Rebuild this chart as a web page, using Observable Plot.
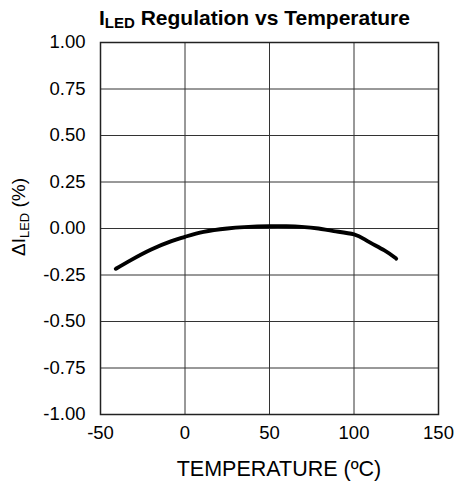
<!DOCTYPE html>
<html>
<head>
<meta charset="utf-8">
<script src="https://cdn.jsdelivr.net/npm/d3@7"></script>
<script src="https://cdn.jsdelivr.net/npm/@observablehq/plot@0.6"></script>
<style>
  body { margin: 0; background: #fff; font-family: "Liberation Sans", Arial, sans-serif; }
  #chart svg { display: block; }
</style>
</head>
<body>
<div id="chart"></div>
<script>
const temperature = [-41, -32, -20, -8, 0, 11, 25, 35, 50, 60, 69, 79, 88, 100, 108, 118, 125];
const deltaILED   = [-0.217, -0.17, -0.113, -0.068, -0.045, -0.018, 0.0, 0.007, 0.012, 0.012, 0.009, 0.0, -0.014, -0.032, -0.068, -0.118, -0.162];
const xTicks = [-50, 0, 50, 100, 150];
const yTicks = [1.00, 0.75, 0.50, 0.25, 0.00, -0.25, -0.50, -0.75, -1.00];

const data = temperature.map((t, i) => ({t, v: deltaILED[i]}));

const W = 454, H = 481;
const ml = 100, mr = 16, mt = 42, mb = 67;

const plot = Plot.plot({
  width: W,
  height: H,
  marginLeft: ml,
  marginRight: mr,
  marginTop: mt,
  marginBottom: mb,
  style: {fontFamily: "Liberation Sans, Arial, sans-serif", fontSize: "18.5px", color: "#000", background: "#fff"},
  x: {domain: [-50, 150], label: null},
  y: {domain: [-1, 1], label: null},
  marks: [
    Plot.gridX(xTicks, {stroke: "#333", strokeOpacity: 1, strokeWidth: 1}),
    Plot.gridY(yTicks, {stroke: "#333", strokeOpacity: 1, strokeWidth: 1}),
    Plot.frame({stroke: "#222", strokeWidth: 1.5}),
    Plot.line(data, {x: "t", y: "v", stroke: "#000", strokeWidth: 3.8, curve: "natural"}),
    Plot.axisX({ticks: xTicks, tickSize: 0, tickPadding: 11, fontSize: 18.5, label: null, tickFormat: d => String(d)}),
    Plot.axisY({ticks: yTicks, tickSize: 0, tickPadding: 15, fontSize: 18.5, label: null, tickFormat: d => d.toFixed(2)})
  ]
});
document.getElementById("chart").appendChild(plot);

const svg = d3.select(plot);

// title with subscript
const title = svg.append("text")
  .attr("x", 99)
  .attr("y", 25)
  .attr("text-anchor", "start")
  .attr("font-size", 21)
  .attr("font-weight", "bold")
  .attr("fill", "#000");
title.append("tspan").text("I");
title.append("tspan").attr("font-size", 15).attr("dy", 3.3).text("LED");
title.append("tspan").attr("dy", -3.3).text(" Regulation vs Temperature");

// y axis title with subscript
const ylab = svg.append("text")
  .attr("transform", `translate(25, 217) rotate(-90)`)
  .attr("text-anchor", "middle")
  .attr("font-size", 19)
  .attr("fill", "#000");
ylab.append("tspan").text("ΔI");
ylab.append("tspan").attr("font-size", 13).attr("dy", 4).text("LED");
ylab.append("tspan").attr("dy", -4).text(" (%)");

// x axis title
svg.append("text")
  .attr("x", ml + (W - ml - mr) / 2 + 10)
  .attr("y", 476)
  .attr("text-anchor", "middle")
  .attr("font-size", 21.5)
  .attr("fill", "#000")
  .text("TEMPERATURE (ºC)");
</script>
</body>
</html>
